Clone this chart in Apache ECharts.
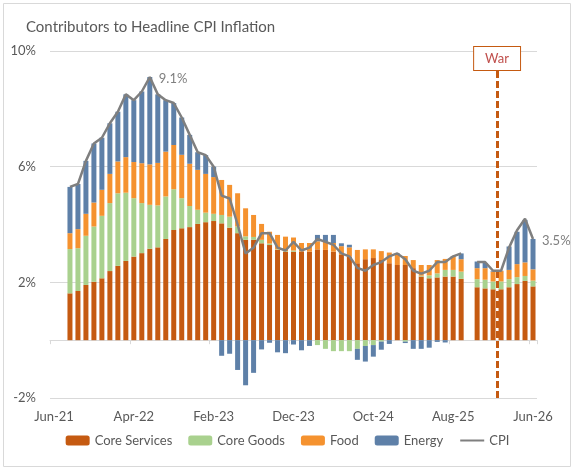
<!DOCTYPE html>
<html>
<head>
<meta charset="utf-8">
<script src="https://cdn.jsdelivr.net/npm/echarts@6/dist/echarts.min.js"></script>
<style>
  html, body { margin: 0; padding: 0; background: #fff; }
  #chart { width: 575px; height: 472px; }
</style>
</head>
<body>
<div id="chart"></div>
<script>
// months on the axis, Jun-21 .. Jun-26
var months = ['Jun-21','Jul-21','Aug-21','Sep-21','Oct-21','Nov-21','Dec-21',
  'Jan-22','Feb-22','Mar-22','Apr-22','May-22','Jun-22','Jul-22','Aug-22','Sep-22','Oct-22','Nov-22','Dec-22',
  'Jan-23','Feb-23','Mar-23','Apr-23','May-23','Jun-23','Jul-23','Aug-23','Sep-23','Oct-23','Nov-23','Dec-23',
  'Jan-24','Feb-24','Mar-24','Apr-24','May-24','Jun-24','Jul-24','Aug-24','Sep-24','Oct-24','Nov-24','Dec-24',
  'Jan-25','Feb-25','Mar-25','Apr-25','May-25','Jun-25','Jul-25','Aug-25','Sep-25','Oct-25','Nov-25','Dec-25',
  'Jan-26','Feb-26','Mar-26','Apr-26','May-26','Jun-26'];

// contributions, percentage points
var coreServices = [null, null,
  1.62,1.70,1.91,2.02,2.14,
  2.39,2.57,2.74,2.89,3.01,3.16,3.21,3.50,3.81,3.87,3.91,4.02,
  4.08,4.12,4.04,3.89,3.70,3.47,3.47,3.35,3.29,3.12,3.06,3.06,
  3.06,3.06,3.14,3.12,3.06,2.95,2.89,2.66,2.80,2.84,2.77,2.66,
  2.60,2.60,2.49,2.20,2.14,2.17,2.20,2.20,2.12,null,1.83,1.79,
  1.76,1.76,1.83,1.94,2.05,1.86];
var coreGoods = [null, null,
  1.53,1.48,1.70,1.91,2.16,
  2.35,2.51,2.36,2.02,1.73,1.52,1.45,1.47,1.41,1.04,0.73,0.49,
  0.33,0.25,0.29,0.38,0.23,0.12,0.10,0.12,0.05,0.02,0.02,0.04,
  0.00,0.00,-0.17,-0.30,-0.38,-0.38,-0.38,-0.30,-0.20,-0.17,-0.05,0.00,
  0.00,-0.05,0.00,0.03,0.10,0.14,0.23,0.23,0.25,null,0.28,0.30,
  0.27,0.27,0.28,0.24,0.17,0.20];
var food = [null, null,
  0.55,0.66,0.76,0.83,0.90,
  1.01,1.10,1.23,1.25,1.38,1.40,1.47,1.55,1.53,1.50,1.46,1.38,
  1.34,1.27,1.21,1.10,1.15,0.97,0.76,0.55,0.41,0.50,0.50,0.45,
  0.30,0.30,0.28,0.28,0.30,0.30,0.32,0.46,0.34,0.30,0.31,0.37,
  0.35,0.31,0.28,0.37,0.36,0.46,0.38,0.46,0.43,null,0.38,0.40,
  0.34,0.36,0.32,0.45,0.47,0.39];
var energy = [null, null,
  1.60,1.56,1.83,2.04,1.80,
  1.75,1.72,2.17,2.14,2.48,3.02,2.37,1.78,1.45,1.29,1.00,0.61,
  0.65,0.36,-0.54,-0.47,-1.03,-1.56,-1.13,-0.32,-0.09,-0.42,-0.45,-0.15,
  -0.35,-0.20,0.22,0.24,0.28,0.10,0.09,-0.38,-0.54,-0.40,-0.28,-0.13,
  0.05,-0.05,-0.30,-0.30,-0.26,-0.06,-0.08,0.02,0.20,null,0.23,0.18,
  0.03,0.01,0.81,1.12,1.47,1.05];
var cpi = [null, null,
  5.3,5.4,6.2,6.8,7.0,
  7.5,7.9,8.5,8.3,8.6,9.1,8.5,8.3,8.2,7.7,7.1,6.5,
  6.4,6.0,5.0,4.9,4.0,3.0,3.2,3.7,3.7,3.2,3.1,3.4,
  3.1,3.2,3.5,3.4,3.3,3.0,2.9,2.5,2.4,2.6,2.7,2.9,
  3.0,2.8,2.4,2.3,2.4,2.7,2.7,2.9,3.0,null,2.7,2.7,
  2.4,2.4,3.2,3.8,4.2,3.5];
var cpiLabelled = ['Jun-22', 'Jun-26'];
var yTicks = [-2, 2, 6, 10];
var warMonth = 'Feb-26';   // line drawn at the start of this month

var font = 'Lato';
var textGrey = '#595959';
var gridGrey = '#D9D9D9';

var myChart = echarts.init(document.getElementById('chart'));

var cpiData = cpi.map(function (v, i) {
  if (cpiLabelled.indexOf(months[i]) > -1) {
    return {
      value: v,
      label: {
        show: true, position: 'right', distance: 9, offset: [0, 2],
        formatter: '{c}%', color: '#7F7F7F', fontSize: 13, fontFamily: font
      }
    };
  }
  return v;
});

function barSeries(name, data, color) {
  return {
    name: name,
    type: 'bar',
    stack: 'total',
    barWidth: 5,
    itemStyle: { color: color },
    data: data
  };
}

option = {
  animation: false,
  textStyle: { fontFamily: font },
  title: {
    text: 'Contributors to Headline CPI Inflation',
    left: 21,
    top: 15,
    textStyle: { fontSize: 15, fontWeight: 'normal', color: textGrey, fontFamily: font }
  },
  graphic: [{
    type: 'rect',
    shape: { x: 3.5, y: 3.5, width: 567, height: 463 },
    style: { fill: 'none', stroke: gridGrey, lineWidth: 1 },
    silent: true
  }],
  legend: {
    bottom: 20,
    left: 'center',
    itemWidth: 24,
    itemHeight: 10,
    itemGap: 16,
    textStyle: { color: textGrey, fontSize: 13, fontFamily: font },
    data: ['Core Services', 'Core Goods', 'Food', 'Energy',
      { name: 'CPI', itemStyle: { opacity: 0 } }]
  },
  grid: { left: 50, right: 38, top: 51, bottom: 74 },
  xAxis: [
    {
      type: 'category',
      data: months,
      position: 'bottom',
      axisLine: { show: false, onZero: false },
      axisTick: { show: false },
      axisLabel: { interval: 9, color: textGrey, fontSize: 13, margin: 12, fontFamily: font }
    },
    {
      type: 'category',
      data: months,
      position: 'bottom',
      axisLine: { show: true, onZero: true, lineStyle: { color: gridGrey } },
      axisTick: { show: true, interval: 9, length: 4, lineStyle: { color: gridGrey } },
      axisLabel: { show: false }
    },
    {
      type: 'value',
      min: -0.5,
      max: months.length - 0.5,
      show: false
    }
  ],
  yAxis: {
    type: 'value',
    min: yTicks[0],
    max: yTicks[yTicks.length - 1],
    interval: yTicks[1] - yTicks[0],
    axisLine: { show: false },
    axisTick: { show: false },
    axisLabel: { formatter: '{value}%', color: textGrey, fontSize: 13, margin: 14, fontFamily: font },
    splitLine: { lineStyle: { color: gridGrey } }
  },
  series: [
    barSeries('Core Services', coreServices, '#C55A11'),
    barSeries('Core Goods', coreGoods, '#A9D18E'),
    barSeries('Food', food, '#F5922F'),
    barSeries('Energy', energy, '#5E80A8'),
    {
      name: 'CPI',
      type: 'line',
      data: cpiData,
      symbol: 'circle',
      symbolSize: 0,
      showAllSymbol: true,
      connectNulls: false,
      color: '#7F7F7F',
      lineStyle: { color: '#7F7F7F', width: 2.5 },
      z: 5
    },
    {
      name: 'War',
      type: 'line',
      xAxisIndex: 2,
      data: [],
      z: 6,
      markLine: {
        silent: true,
        symbol: ['none', 'none'],
        lineStyle: { color: '#C55A11', type: [7, 3], width: 3 },
        label: {
          show: true,
          position: 'end',
          distance: -19,
          formatter: 'War',
          color: '#C0504D',
          fontSize: 13,
          fontFamily: font,
          backgroundColor: '#fff',
          borderColor: '#C55A11',
          borderWidth: 1,
          padding: [5, 11]
        },
        data: [{ xAxis: months.indexOf(warMonth) - 0.5 }]
      }
    }
  ]
};
myChart.setOption(option);
</script>
</body>
</html>
